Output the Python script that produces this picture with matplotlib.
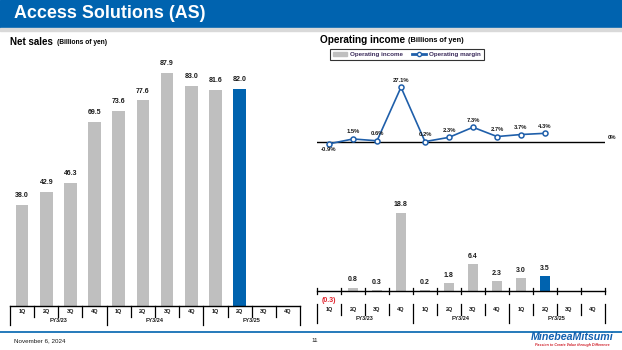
import matplotlib
matplotlib.use('Agg')
import matplotlib.pyplot as plt
import matplotlib.transforms as mtransforms
from matplotlib.patches import Rectangle, Patch
from matplotlib.lines import Line2D

plt.rcParams['font.family'] = ['Liberation Sans', 'DejaVu Sans']

quarters = ['1Q', '2Q', '3Q', '4Q'] * 3
years = ['FY3/23', 'FY3/24', 'FY3/25']
net_sales = [38.0, 42.9, 46.3, 69.5, 73.6, 77.6, 87.9, 83.0, 81.6, 82.0]
op_income = [-0.3, 0.8, 0.3, 18.8, 0.2, 1.8, 6.4, 2.3, 3.0, 3.5]
op_margin = [-0.9, 1.5, 0.6, 27.1, 0.2, 2.3, 7.3, 2.7, 3.7, 4.3]
sales_labels = ['38.0', '42.9', '46.3', '69.5', '73.6', '77.6', '87.9', '83.0', '81.6', '82.0']
income_labels = ['(0.3)', '0.8', '0.3', '18.8', '0.2', '1.8', '6.4', '2.3', '3.0', '3.5']
margin_labels = ['-0.9%', '1.5%', '0.6%', '27.1%', '0.2%', '2.3%', '7.3%', '2.7%', '3.7%', '4.3%']

W, H = 622, 350
BLUE = '#0063AF'
GRAY = '#BFBFBF'
TXT = '#1a1a1a'

fig = plt.figure(figsize=(W / 100, H / 100), dpi=100)


def box(x0, y0, x1, y1):
    # pixel box (top-left origin) -> figure fraction
    return [x0 / W, 1 - y1 / H, (x1 - x0) / W, (y1 - y0) / H]


def ftext(x, y, s, **kw):
    fig.text(x / W, 1 - y / H, s, **kw)


# header
fig.patches.append(Rectangle((0, 1 - 28 / H), 1, 28 / H, transform=fig.transFigure,
                             color=BLUE, zorder=0))
fig.patches.append(Rectangle((0, 1 - 31 / H), 1, 3 / H, transform=fig.transFigure,
                             color='#D9D9D9', zorder=0))
ftext(14, 14, 'Access Solutions (AS)', color='white', fontsize=12.9,
      fontweight='bold', va='center')

# footer
fig.add_artist(Line2D([0, 1], [1 - 332 / H] * 2, color=BLUE, lw=1.2,
                      transform=fig.transFigure))
ftext(14, 341, 'November 6, 2024', fontsize=4.5, va='center', color=TXT)
ftext(311, 341, '11', fontsize=4.5, va='center', color=TXT)
ftext(572, 337, 'MinebeaMitsumi', fontsize=7.7, va='center', ha='center',
      fontweight='bold', style='italic', color='#1260B0')
ftext(572, 345, 'Passion to Create Value through Difference', fontsize=2.6,
      va='center', ha='center', fontweight='bold', style='italic', color='#D0202A')

# titles
ftext(10, 42, 'Net sales', fontsize=7, fontweight='bold', va='center')
ftext(57, 42, '(Billions of yen)', fontsize=4.8, fontweight='bold', va='center')
ftext(320, 40, 'Operating income', fontsize=7.2, fontweight='bold', va='center')
ftext(408, 40, '(Billions of yen)', fontsize=5.3, fontweight='bold', va='center')


def category_axis(ax, axis_y, row_top_px, px_h, cross=False):
    # multi-level quarter / fiscal-year axis drawn under an axes
    tr = mtransforms.blended_transform_factory(ax.transData, ax.transAxes)

    def ay(px):
        return -px / px_h  # px below the axes bottom, in axes fraction

    n = len(quarters)
    ax.plot([-0.5, n - 0.5], [axis_y, axis_y], color='black', lw=1,
            transform=tr, clip_on=False)
    for i in range(n + 1):
        x = i - 0.5
        if cross:
            ax.plot([x, x], [axis_y - 3 / px_h, axis_y + 3 / px_h], color='black', lw=0.9,
                    transform=tr, clip_on=False)
        long = i % 4 == 0
        ax.plot([x, x], [ay(row_top_px), ay(row_top_px + (19 if long else 11))],
                color='black', lw=0.9, transform=tr, clip_on=False)
    for i, q in enumerate(quarters):
        ax.text(i, ay(row_top_px + 6), q, transform=tr, ha='center', va='center',
                fontsize=4, fontweight='bold', color=TXT)
    for j, yname in enumerate(years):
        ax.text(4 * j + 1.5, ay(row_top_px + 14), yname, transform=tr, ha='center',
                va='center', fontsize=4, fontweight='bold', color=TXT)


# left: net sales
axL = fig.add_axes(box(10, 41, 300, 306))
colors = [GRAY] * (len(net_sales) - 1) + [BLUE]
xs = range(len(net_sales))
axL.bar(xs, net_sales, width=0.52, color=colors)
for x, v, s in zip(xs, net_sales, sales_labels):
    axL.text(x, v + 2.2, s, ha='center', va='bottom', fontsize=5, fontweight='bold', color=TXT)
axL.set_xlim(-0.5, 11.5)
axL.set_ylim(0, 100)
axL.axis('off')
category_axis(axL, 0, 0, 265)

# right bottom: operating income bars
ppu = 4.17
axB = fig.add_axes(box(317, 170, 605, 295))
axB.bar(xs, op_income, width=0.42, color=colors)
for x, v, s in zip(xs, op_income, income_labels):
    if v < 0:
        axB.text(x, v - 1.2, s, ha='center', va='top', fontsize=5, fontweight='bold',
                 color='#E0202A')
    else:
        axB.text(x, v + 1.0, s, ha='center', va='bottom', fontsize=5, fontweight='bold',
                 color=TXT)
axB.set_xlim(-0.5, 11.5)
axB.set_ylim(-4 / ppu, 121 / ppu)
axB.axis('off')
category_axis(axB, 4 / 125, 9, 125, cross=True)

# right top: operating margin line
axT = fig.add_axes(box(317, 75, 605, 150))
axT.plot(list(xs), op_margin, color='#1F5FAA', lw=1.2, marker='o', ms=3.6,
         mfc='white', mec='#1F5FAA', mew=1.1, zorder=3)
axT.axhline(0, color='black', lw=1)
for x, v, s in zip(xs, op_margin, margin_labels):
    if v < 0:
        axT.text(x, v - 1.8, s, ha='center', va='top', fontsize=4.2, fontweight='bold', color=TXT)
    else:
        axT.text(x, v + 2.3, s, ha='center', va='bottom', fontsize=4.2, fontweight='bold', color=TXT)
axT.text(11.8, 1.0, '0%', ha='center', va='bottom', fontsize=4.2, fontweight='bold',
         color=TXT, clip_on=False)
axT.set_xlim(-0.5, 11.5)
axT.set_ylim(-8 / 2.02, 67 / 2.02)
axT.axis('off')

handles = [Patch(color=GRAY, label='Operating income'),
           Line2D([0], [0], color='#1F5FAA', lw=2, marker='o', ms=3, mfc='white',
                  mec='#1F5FAA', label='Operating margin')]
leg = fig.legend(handles=handles, loc='center', bbox_to_anchor=(407 / W, 1 - 54.5 / H),
                 ncol=2, fontsize=4.5, frameon=True, fancybox=False, edgecolor='black',
                 handlelength=2.2, handleheight=0.6, columnspacing=1.5,
                 borderpad=0.5, handletextpad=0.5)
leg.get_frame().set_linewidth(0.8)
for t in leg.get_texts():
    t.set_fontweight('bold')
    t.set_color('#3a2a5a')

fig.savefig('out.png', dpi=100)
